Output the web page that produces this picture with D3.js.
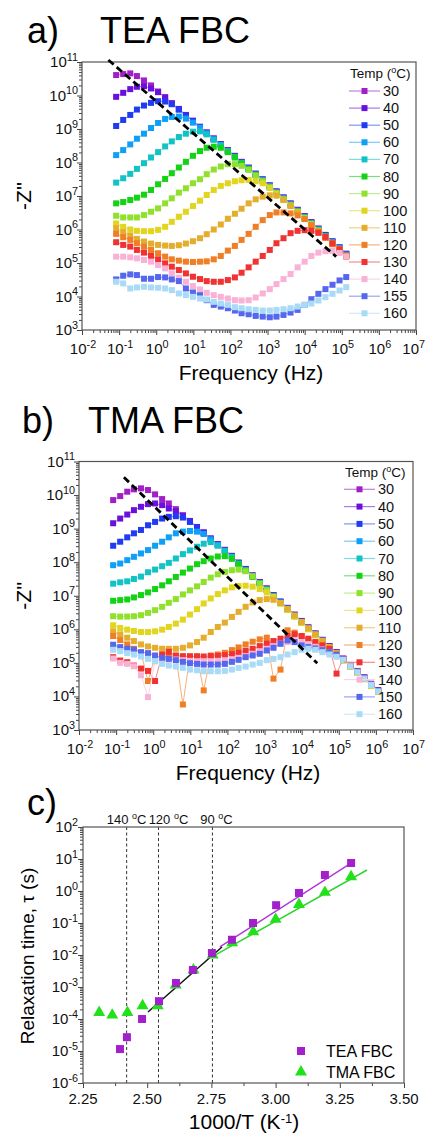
<!DOCTYPE html>
<html>
<head>
<meta charset="utf-8">
<script src="https://cdn.jsdelivr.net/npm/d3@7"></script>
<style>
  body { margin: 0; background: #fff; }
  svg { font-family: "Liberation Sans", Arial, sans-serif; }
</style>
</head>
<body>
<svg id="fig" width="426" height="1133"></svg>
<script>
// ---------- data ----------
// frequencies as log10(Hz)
const logFreqA = [-1.08,-0.89,-0.70,-0.52,-0.33,-0.14,0.05,0.24,0.42,0.61,0.80,0.99,1.18,1.36,1.55,1.74,1.93,2.12,2.30,2.49,2.68,2.87,3.06,3.24,3.43,3.62,3.81,4.00,4.18,4.37,4.56,4.75,4.94,5.12];
const logFreqB = [-1.08,-0.89,-0.70,-0.52,-0.33,-0.14,0.05,0.24,0.42,0.61,0.80,0.99,1.18,1.36,1.55,1.74,1.93,2.12,2.30,2.49,2.68,2.87,3.06,3.24,3.43,3.62,3.81,4.00,4.18,4.37,4.56,4.75,4.94,5.12,5.31,5.50,5.69,5.87,6.06];

const tempsA = ['30','40','50','60','70','80','90','100','110','120','130','140','155','160'];
const tempsB = ['30','40','50','60','70','80','90','100','110','120','130','140','150','160'];

// log10(-Z'') for TEA FBC
const zA30  = [10.61,10.64,10.66,10.58,10.45,10.30,10.12,9.95,9.77,9.60,9.42,9.25,9.07,8.90,8.72,8.55,8.37,8.20,8.02,7.85,7.67,7.50,7.32,7.14,6.96,6.78,6.59,6.40,6.22,6.03,5.84,5.65,5.47,5.28];
const zA40  = [9.96,10.08,10.19,10.26,10.28,10.21,10.10,9.94,9.76,9.59,9.41,9.24,9.06,8.89,8.71,8.54,8.36,8.19,8.01,7.84,7.66,7.49,7.31,7.13,6.95,6.77,6.58,6.39,6.21,6.02,5.83,5.64,5.46,5.27];
const zA50  = [9.09,9.27,9.42,9.58,9.70,9.78,9.83,9.82,9.74,9.58,9.40,9.23,9.05,8.88,8.70,8.53,8.35,8.18,8.00,7.83,7.65,7.48,7.30,7.12,6.94,6.76,6.57,6.38,6.20,6.01,5.82,5.63,5.45,5.26];
const zA60  = [8.22,8.37,8.54,8.71,8.86,9.03,9.18,9.30,9.36,9.37,9.31,9.19,9.04,8.87,8.69,8.52,8.34,8.17,7.99,7.82,7.64,7.47,7.29,7.11,6.93,6.75,6.56,6.37,6.19,6.00,5.81,5.62,5.44,5.25];
const zA70  = [7.40,7.53,7.66,7.81,7.98,8.15,8.31,8.48,8.63,8.76,8.86,8.92,8.93,8.84,8.68,8.51,8.33,8.16,7.98,7.81,7.63,7.46,7.28,7.10,6.92,6.74,6.55,6.36,6.18,5.99,5.80,5.61,5.43,5.24];
const zA80  = [6.78,6.82,6.88,6.95,7.04,7.18,7.35,7.51,7.68,7.85,8.02,8.20,8.34,8.44,8.47,8.44,8.31,8.15,7.97,7.80,7.62,7.45,7.27,7.09,6.91,6.73,6.54,6.35,6.17,5.98,5.79,5.60,5.42,5.23];
const zA90  = [6.41,6.36,6.36,6.36,6.43,6.53,6.63,6.78,6.93,7.10,7.23,7.38,7.50,7.65,7.79,7.88,7.95,7.95,7.90,7.78,7.61,7.44,7.26,7.08,6.90,6.72,6.53,6.34,6.16,5.97,5.78,5.59,5.41,5.22];
const zA100 = [6.18,6.08,6.00,5.96,5.95,5.95,5.99,6.08,6.23,6.38,6.53,6.70,6.86,7.03,7.18,7.30,7.38,7.44,7.47,7.48,7.44,7.38,7.24,7.07,6.89,6.71,6.52,6.33,6.15,5.96,5.77,5.58,5.40,5.21];
const zA110 = [6.04,5.92,5.82,5.72,5.64,5.58,5.54,5.52,5.51,5.53,5.58,5.65,5.74,5.86,6.00,6.15,6.32,6.47,6.62,6.78,6.90,6.98,7.02,7.01,6.88,6.70,6.51,6.32,6.14,5.95,5.76,5.57,5.39,5.20];
const zA120 = [5.87,5.77,5.69,5.59,5.49,5.39,5.29,5.19,5.11,5.07,5.04,5.03,5.04,5.05,5.11,5.21,5.37,5.51,5.69,5.87,6.08,6.28,6.43,6.51,6.51,6.48,6.42,6.31,6.13,5.94,5.75,5.56,5.38,5.19];
const zA130 = [5.62,5.54,5.49,5.39,5.31,5.21,5.11,4.99,4.89,4.79,4.69,4.59,4.52,4.46,4.44,4.44,4.49,4.57,4.71,4.87,5.04,5.21,5.39,5.59,5.74,5.89,5.96,5.98,5.96,5.90,5.78,5.59,5.41,5.22];
const zA140 = [5.19,5.19,5.17,5.14,5.09,5.04,4.94,4.84,4.69,4.56,4.44,4.31,4.21,4.11,4.04,3.99,3.94,3.89,3.88,3.89,3.97,4.09,4.22,4.37,4.52,4.67,4.87,5.04,5.21,5.31,5.35,5.36,5.30,5.20];
const zA155 = [4.51,4.62,4.66,4.64,4.53,4.53,4.58,4.57,4.51,4.46,4.24,4.12,4.04,3.89,3.75,3.70,3.65,3.58,3.50,3.47,3.42,3.40,3.38,3.40,3.45,3.52,3.60,3.75,3.92,4.08,4.22,4.35,4.48,4.58];
const zA160 = [4.44,4.39,4.24,4.27,4.29,4.27,4.26,4.24,4.19,4.09,4.04,3.99,3.94,3.91,3.84,3.79,3.75,3.68,3.65,3.62,3.60,3.58,3.58,3.60,3.62,3.65,3.70,3.75,3.79,3.88,3.98,4.08,4.18,4.28];

// log10(-Z'') for TMA FBC
const zB30  = [9.85,9.97,10.10,10.17,10.20,10.15,10.02,9.88,9.75,9.58,9.40,9.23,9.05,8.89,8.71,8.54,8.37,8.19,7.99,7.80,7.61,7.41,7.22,7.02,6.83,6.64,6.44,6.25,6.06,5.88,5.69,5.50,5.32,5.13,4.94,4.76,4.57,4.38,4.19];
const zB40  = [9.16,9.30,9.42,9.55,9.65,9.73,9.75,9.70,9.60,9.52,9.38,9.22,9.04,8.88,8.70,8.53,8.36,8.18,7.98,7.79,7.60,7.40,7.21,7.01,6.82,6.63,6.43,6.24,6.05,5.87,5.68,5.49,5.31,5.12,4.93,4.75,4.56,4.37,4.18];
const zB50  = [8.49,8.61,8.74,8.86,8.96,9.10,9.20,9.30,9.35,9.37,9.33,9.20,9.03,8.87,8.69,8.52,8.35,8.17,7.97,7.78,7.59,7.39,7.20,7.00,6.81,6.62,6.42,6.23,6.04,5.86,5.67,5.48,5.30,5.11,4.92,4.74,4.55,4.36,4.17];
const zB60  = [7.91,7.96,8.06,8.16,8.26,8.36,8.49,8.61,8.74,8.86,8.91,8.93,8.91,8.84,8.68,8.51,8.34,8.16,7.96,7.77,7.58,7.38,7.19,6.99,6.80,6.61,6.41,6.22,6.03,5.85,5.66,5.47,5.29,5.10,4.91,4.73,4.54,4.35,4.16];
const zB70  = [7.36,7.40,7.43,7.50,7.57,7.70,7.78,7.88,7.98,8.11,8.24,8.35,8.46,8.55,8.60,8.49,8.33,8.15,7.95,7.76,7.57,7.37,7.18,6.98,6.79,6.60,6.40,6.21,6.02,5.84,5.65,5.46,5.28,5.09,4.90,4.72,4.53,4.34,4.15];
const zB80  = [6.85,6.87,6.89,6.95,7.02,7.10,7.20,7.31,7.43,7.56,7.69,7.81,7.94,8.03,8.11,8.17,8.18,8.10,7.94,7.75,7.56,7.36,7.17,6.97,6.78,6.59,6.39,6.20,6.01,5.83,5.64,5.45,5.27,5.08,4.89,4.71,4.52,4.33,4.14];
const zB90  = [6.39,6.38,6.38,6.39,6.42,6.49,6.57,6.67,6.79,6.90,7.04,7.16,7.28,7.41,7.54,7.64,7.71,7.76,7.78,7.73,7.58,7.36,7.17,6.97,6.78,6.59,6.39,6.20,6.01,5.83,5.64,5.45,5.27,5.08,4.89,4.71,4.52,4.33,4.14];
const zB100 = [6.12,6.04,5.99,5.95,5.92,5.92,5.94,5.99,6.07,6.17,6.29,6.44,6.60,6.77,6.92,7.05,7.16,7.25,7.29,7.30,7.27,7.20,7.10,6.96,6.77,6.58,6.38,6.19,6.00,5.82,5.63,5.44,5.26,5.07,4.88,4.70,4.51,4.32,4.13];
const zB110 = [5.94,5.85,5.75,5.65,5.55,5.49,5.45,5.42,5.42,5.42,5.45,5.52,5.62,5.75,5.92,6.07,6.20,6.37,6.52,6.67,6.80,6.87,6.90,6.88,6.78,6.61,6.41,6.22,6.03,5.85,5.66,5.47,5.29,5.10,4.91,4.73,4.54,4.35,4.16];
const zB120 = [5.80,5.68,5.55,5.42,5.30,4.46,5.20,5.18,5.20,5.20,3.76,5.20,5.20,4.18,5.22,5.25,5.30,5.38,5.46,5.55,5.63,5.70,5.75,4.53,4.80,5.97,5.90,5.80,5.68,5.60,5.52,5.40,5.25,5.10,4.91,4.73,4.54,4.35,4.16];
const zB130 = [5.17,5.07,5.02,4.92,4.83,4.76,4.46,5.25,5.33,5.22,5.20,5.19,5.19,5.19,5.20,5.21,5.23,5.26,5.30,5.36,5.42,5.50,5.58,5.65,5.72,5.80,5.85,5.80,5.72,5.62,5.52,5.42,4.68,5.12,4.92,4.74,4.55,4.36,4.17];
const zB140 = [5.13,5.00,4.97,4.90,4.63,3.98,5.05,5.08,5.10,5.10,5.08,5.06,5.05,5.05,5.05,5.06,5.08,5.11,5.15,5.20,5.27,5.35,5.42,5.50,5.57,5.62,5.65,5.62,5.56,5.48,5.40,5.32,5.23,5.10,4.91,4.73,4.54,4.35,4.16];
const zB150 = [5.54,5.47,5.42,5.39,5.32,5.29,5.22,5.15,5.12,5.08,5.03,4.99,4.97,4.95,4.95,4.95,4.97,5.03,5.09,5.17,5.22,5.27,5.37,5.45,5.57,5.67,5.62,5.52,5.47,5.43,5.38,5.32,5.24,5.11,4.92,4.74,4.55,4.36,4.17];
const zB160 = [5.39,5.35,5.29,5.25,5.19,5.12,5.05,4.97,4.92,4.89,4.85,4.80,4.78,4.75,4.75,4.75,4.76,4.80,4.85,4.89,4.95,5.00,5.08,5.12,5.17,5.25,5.32,5.39,5.42,5.39,5.32,5.25,5.18,5.09,4.90,4.72,4.53,4.34,4.15];

// dashed guide lines, [log f, log Z] end points
const guideA = [[-1.29, 11.06], [4.85, 5.19]];
const guideB = [[-0.79, 10.53], [4.42, 4.99]];

// relaxation times
const invT_TEA = [3.294,3.192,3.091,3.002,2.912,2.830,2.752,2.678,2.612,2.546,2.480,2.421,2.394];
const tau_TEA  = [7.5,3.16,0.87,0.36,0.10,0.030,0.0115,0.0034,0.00133,3.6e-4,1.0e-4,2.7e-5,1.15e-5];
const invT_TMA = [3.294,3.192,3.091,3.000,2.913,2.831,2.755,2.680,2.611,2.541,2.482,2.423,2.364,2.313];
const tau_TMA  = [2.8,0.91,0.38,0.13,0.053,0.024,0.010,0.0034,0.00115,2.6e-4,2.6e-4,1.6e-4,1.33e-4,1.6e-4];
const fitTEA = [[2.783, 0.0178], [3.300, 8.05]];
const fitTMA = [[2.752, 0.0087], [3.356, 4.53]];
const fitLow = [[2.503, 1.66e-4], [2.791, 0.0178]];
const markLines = [2.420, 2.544, 2.754];
const markLabels = ['140', '120', '90'];

// ---------- styles ----------
const palette = ['#a21fc8','#6a10dc','#1f3cf2','#0ea0f6','#12c3c6','#14d214','#8fe12c','#e2d51f','#e5ad2e','#f07e24','#f03232','#f9b1d6','#5567ee','#a9dbf7'];
const lineTint = ['#c77ee0','#a87ae8','#7f95f5','#7cc8f8','#7fdcdc','#7ae07a','#c3ec8e','#eee58a','#f1cf87','#f6b07c','#f58c8c','#fbd3e8','#9aa4f4','#cfeafa'];

const svg = d3.select('#fig');

function supText(g, x, y, base, exp, anchor, size) {
  const t = g.append('text')
    .attr('x', x).attr('y', y)
    .attr('text-anchor', anchor)
    .style('font-size', size + 'px')
    .attr('fill', '#111');
  t.append('tspan').text(base);
  t.append('tspan').attr('dy', -size * 0.42).style('font-size', (size * 0.72) + 'px').text(exp);
  return t;
}

function logAxes(g, x, y, xr, yr) {
  const majorsX = d3.range(-2, 8).map(e => Math.pow(10, e));
  const minorsX = [];
  majorsX.slice(0, -1).forEach(m => { for (let k = 2; k < 10; k++) minorsX.push(m * k); });
  const majorsY = d3.range(3, 12).map(e => Math.pow(10, e));
  const minorsY = [];
  majorsY.slice(0, -1).forEach(m => { for (let k = 2; k < 10; k++) minorsY.push(m * k); });

  g.append('g').attr('transform', `translate(0,${yr[0]})`)
    .call(d3.axisBottom(x).tickValues(minorsX).tickSize(3).tickFormat(''))
    .call(a => a.select('.domain').remove());
  g.append('g').attr('transform', `translate(0,${yr[0]})`)
    .call(d3.axisBottom(x).tickValues(majorsX).tickSize(5).tickFormat(''))
    .call(a => a.select('.domain').remove());
  g.append('g').attr('transform', `translate(${xr[0]},0)`)
    .call(d3.axisLeft(y).tickValues(minorsY).tickSize(3).tickFormat(''))
    .call(a => a.select('.domain').remove());
  g.append('g').attr('transform', `translate(${xr[0]},0)`)
    .call(d3.axisLeft(y).tickValues(majorsY).tickSize(5).tickFormat(''))
    .call(a => a.select('.domain').remove());
  g.selectAll('.tick line').attr('stroke', '#444');

  // last label sits against the page edge, as in the original
  majorsX.forEach((v, i) => {
    const last = i === majorsX.length - 1;
    supText(g, last ? 425 : x(v) + 1, yr[0] + 24, '10', String(i - 2), last ? 'end' : 'middle', 15);
  });
  majorsY.forEach((v, i) => supText(g, xr[0] - 4, y(v) + 5, '10', String(i + 3), 'end', 15));

  g.append('rect').attr('x', xr[0]).attr('y', yr[1])
    .attr('width', xr[1] - xr[0]).attr('height', yr[0] - yr[1])
    .attr('fill', 'none').attr('stroke', '#555').attr('stroke-width', 1.2);
}

function freqPanel(opt) {
  const g = svg.append('g');
  const x = d3.scaleLog().domain([1e-2, 1e7]).range(opt.xr);
  const y = d3.scaleLog().domain([1e3, 1e11]).range(opt.yr);
  logAxes(g, x, y, opt.xr, opt.yr);

  const line = d3.line().x(d => x(Math.pow(10, d[0]))).y(d => y(Math.pow(10, d[1])));
  const plot = g.append('g');
  opt.series.forEach((s, si) => {
    const pts = opt.freq.map((f, i) => [f, s[i]]);
    plot.append('path').datum(pts)
      .attr('d', line).attr('fill', 'none')
      .attr('stroke', lineTint[si]).attr('stroke-width', 1);
    plot.selectAll(null).data(pts).enter().append('rect')
      .attr('x', d => x(Math.pow(10, d[0])) - 3)
      .attr('y', d => y(Math.pow(10, d[1])) - 3)
      .attr('width', 6).attr('height', 6)
      .attr('fill', palette[si]);
  });

  g.append('path').datum(opt.guide).attr('d', line)
    .attr('fill', 'none').attr('stroke', '#000')
    .attr('stroke-width', 2.8).attr('stroke-dasharray', '7,4');

  // legend
  const lg = g.append('g');
  const tt = lg.append('text').attr('x', opt.leg.x).attr('y', opt.leg.y)
    .style('font-size', '13.5px').attr('fill', '#111');
  tt.append('tspan').text('Temp (');
  tt.append('tspan').attr('dy', -5).style('font-size', '9px').text('o');
  tt.append('tspan').attr('dy', 5).text('C)');
  opt.temps.forEach((t, i) => {
    const cy = opt.leg.row0 + i * opt.leg.step;
    lg.append('line').attr('x1', opt.leg.lx).attr('x2', opt.leg.lx + 31)
      .attr('y1', cy).attr('y2', cy).attr('stroke', lineTint[i]).attr('stroke-width', 1.2);
    lg.append('rect').attr('x', opt.leg.lx + 12.5).attr('y', cy - 3).attr('width', 6).attr('height', 6)
      .attr('fill', palette[i]);
    lg.append('text').attr('x', opt.leg.lx + 34).attr('y', cy + 5)
      .style('font-size', '14.5px').attr('fill', '#111').text(t);
  });

  // titles
  g.append('text').attr('x', opt.tag.x).attr('y', opt.tag.y).style('font-size', '36px').text(opt.tag.t);
  g.append('text').attr('x', opt.title.x).attr('y', opt.tag.y).style('font-size', '36px').text(opt.title.t);
  g.append('text').attr('x', (opt.xr[0] + opt.xr[1]) / 2 + 2).attr('y', opt.yr[0] + 50)
    .attr('text-anchor', 'middle').style('font-size', '21px').text('Frequency (Hz)');
  g.append('text').attr('transform', `translate(31,${(opt.yr[0] + opt.yr[1]) / 2}) rotate(-90)`)
    .attr('text-anchor', 'middle').style('font-size', '21px').text("-Z''");
}

freqPanel({
  xr: [82, 416], yr: [330, 62],
  freq: logFreqA, temps: tempsA,
  series: [zA30, zA40, zA50, zA60, zA70, zA80, zA90, zA100, zA110, zA120, zA130, zA140, zA155, zA160],
  guide: guideA,
  leg: { x: 350, y: 78, lx: 349, row0: 91, step: 17.1 },
  tag: { x: 27, y: 43, t: 'a)' }, title: { x: 100, t: 'TEA FBC' }
});

freqPanel({
  xr: [79, 413], yr: [730, 461.5],
  freq: logFreqB, temps: tempsB,
  series: [zB30, zB40, zB50, zB60, zB70, zB80, zB90, zB100, zB110, zB120, zB130, zB140, zB150, zB160],
  guide: guideB,
  leg: { x: 345, y: 477, lx: 344, row0: 489.3, step: 17.3 },
  tag: { x: 22, y: 433, t: 'b)' }, title: { x: 88, t: 'TMA FBC' }
});

// ---------- panel c ----------
(function () {
  const xr = [83, 404], yr = [1083, 827];
  const g = svg.append('g');
  const x = d3.scaleLinear().domain([2.25, 3.5]).range(xr);
  const y = d3.scaleLog().domain([1e-6, 1e2]).range(yr);

  const majorsY = d3.range(-6, 3).map(e => Math.pow(10, e));
  const minorsY = [];
  majorsY.slice(0, -1).forEach(m => { for (let k = 2; k < 10; k++) minorsY.push(m * k); });
  const majorsX = [2.25, 2.5, 2.75, 3.0, 3.25, 3.5];
  const minorsX = [2.375, 2.625, 2.875, 3.125, 3.375];

  g.append('g').attr('transform', `translate(0,${yr[0]})`)
    .call(d3.axisBottom(x).tickValues(majorsX).tickSize(5).tickFormat(''))
    .call(a => a.select('.domain').remove());
  g.append('g').attr('transform', `translate(0,${yr[0]})`)
    .call(d3.axisBottom(x).tickValues(minorsX).tickSize(3).tickFormat(''))
    .call(a => a.select('.domain').remove());
  g.append('g').attr('transform', `translate(${xr[0]},0)`)
    .call(d3.axisLeft(y).tickValues(majorsY).tickSize(5).tickFormat(''))
    .call(a => a.select('.domain').remove());
  g.append('g').attr('transform', `translate(${xr[0]},0)`)
    .call(d3.axisLeft(y).tickValues(minorsY).tickSize(3).tickFormat(''))
    .call(a => a.select('.domain').remove());
  g.selectAll('.tick line').attr('stroke', '#444');

  majorsX.forEach(v => g.append('text').attr('x', x(v)).attr('y', yr[0] + 21)
    .attr('text-anchor', 'middle').style('font-size', '15px').attr('fill', '#111').text(v.toFixed(2)));
  majorsY.forEach((v, i) => supText(g, xr[0] - 5, y(v) + 5, '10', String(i - 6), 'end', 15));

  // temperature markers
  markLines.forEach((v, i) => {
    g.append('line').attr('x1', x(v)).attr('x2', x(v)).attr('y1', yr[1]).attr('y2', yr[0])
      .attr('stroke', '#333').attr('stroke-width', 1).attr('stroke-dasharray', '3,2.5');
    const t = g.append('text').attr('x', x(v) + (i === 1 ? 10 : (i === 2 ? 4 : 0))).attr('y', yr[1] - 3)
      .attr('text-anchor', 'middle').style('font-size', '13px').attr('fill', '#111');
    t.append('tspan').text(markLabels[i] + ' ');
    t.append('tspan').attr('dy', -5).style('font-size', '9px').text('o');
    t.append('tspan').attr('dy', 5).text('C');
  });

  const line = d3.line().x(d => x(d[0])).y(d => y(d[1]));
  g.append('path').datum(fitTEA).attr('d', line).attr('stroke', '#b338dc').attr('stroke-width', 1.5).attr('fill', 'none');
  g.append('path').datum(fitTMA).attr('d', line).attr('stroke', '#2fd42f').attr('stroke-width', 1.5).attr('fill', 'none');
  g.append('path').datum(fitLow).attr('d', line).attr('stroke', '#111').attr('stroke-width', 1.5).attr('fill', 'none');

  const tea = invT_TEA.map((v, i) => [v, tau_TEA[i]]);
  const tma = invT_TMA.map((v, i) => [v, tau_TMA[i]]);
  const tri = d3.symbol().type(d3.symbolTriangle).size(62);
  g.selectAll(null).data(tma).enter().append('path')
    .attr('d', tri).attr('transform', d => `translate(${x(d[0])},${y(d[1])})`)
    .attr('fill', '#22e01a');
  g.selectAll(null).data(tea).enter().append('rect')
    .attr('x', d => x(d[0]) - 4).attr('y', d => y(d[1]) - 4)
    .attr('width', 8).attr('height', 8).attr('fill', '#a221cc');

  // legend
  g.append('rect').attr('x', 297).attr('y', 1047).attr('width', 8).attr('height', 8).attr('fill', '#a221cc');
  g.append('text').attr('x', 326).attr('y', 1057).style('font-size', '16px').text('TEA FBC');
  g.append('path').attr('d', tri).attr('transform', 'translate(301,1072)').attr('fill', '#22e01a');
  g.append('text').attr('x', 326).attr('y', 1078).style('font-size', '16px').text('TMA FBC');

  g.append('rect').attr('x', xr[0]).attr('y', yr[1]).attr('width', xr[1] - xr[0]).attr('height', yr[0] - yr[1])
    .attr('fill', 'none').attr('stroke', '#555').attr('stroke-width', 1.2);

  g.append('text').attr('x', 27).attr('y', 815).style('font-size', '36px').text('c)');

  const xl = g.append('text').attr('x', 244).attr('y', 1129).attr('text-anchor', 'middle').style('font-size', '21px');
  xl.append('tspan').text('1000/T (K');
  xl.append('tspan').attr('dy', -6).style('font-size', '13px').text('-1');
  xl.append('tspan').attr('dy', 6).text(')');

  g.append('text').attr('transform', `translate(34,${(yr[0] + yr[1]) / 2 + 1}) rotate(-90)`)
    .attr('text-anchor', 'middle').style('font-size', '19px').text('Relaxation time, \u03c4 (s)');
})();
</script>
</body>
</html>
